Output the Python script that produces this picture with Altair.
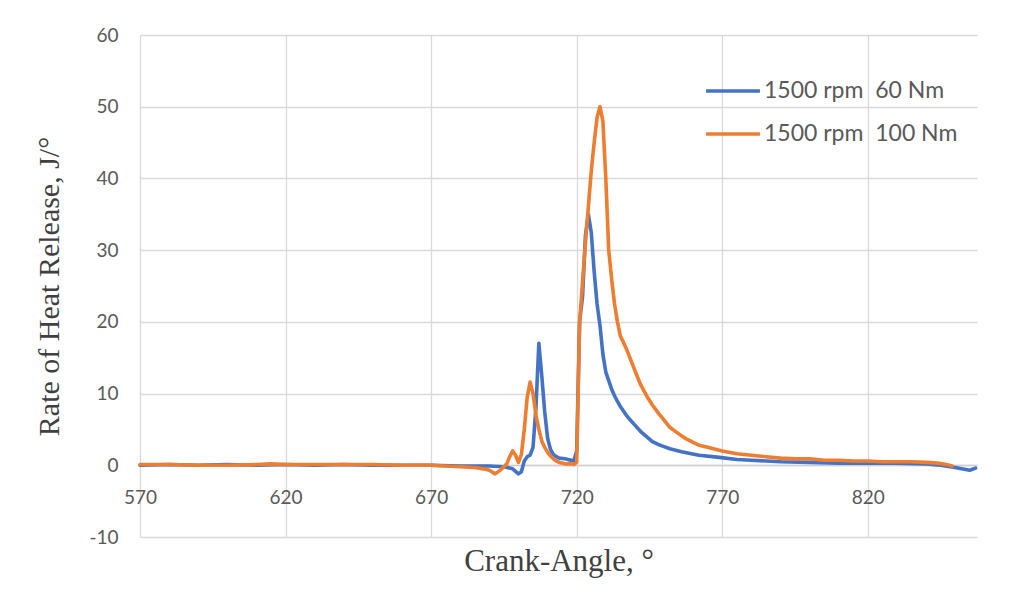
import altair as alt
import pandas as pd

S1 = "1500 rpm\u00a0 60 Nm"
S2 = "1500 rpm\u00a0 100 Nm"

angle_60 = [570, 580, 590, 600, 610, 620, 630, 640, 650, 660, 670, 680, 690, 695, 698,
            700, 701, 702, 703, 704, 705, 706, 707, 708, 709, 710, 711, 712, 713, 714,
            716, 718, 719, 720, 721, 722, 723, 724, 725, 726, 727, 728, 729, 730, 731,
            732, 733, 734, 735, 736, 737, 738, 740, 742, 744, 746, 748, 750, 752, 756,
            762, 769, 775, 780, 790, 800, 810, 820, 830, 840, 845, 850, 855, 857]
rhr_60 = [0.0, 0.1, 0.0, 0.1, 0.0, 0.1, 0.0, 0.1, 0.0, 0.0, 0.0, -0.1, -0.1, -0.2, -0.5,
          -1.2, -0.9, 0.6, 1.2, 1.4, 2.5, 8.0, 17.0, 12.5, 7.5, 3.8, 2.2, 1.5, 1.2, 1.0,
          0.9, 0.7, 0.6, 2.0, 20.0, 23.5, 32.0, 35.0, 32.5, 27.0, 22.5, 19.5, 15.5, 13.0, 11.8,
          10.6, 9.7, 8.9, 8.2, 7.6, 7.0, 6.5, 5.6, 4.7, 4.0, 3.3, 2.9, 2.6, 2.3, 1.9,
          1.4, 1.1, 0.8, 0.7, 0.5, 0.4, 0.3, 0.3, 0.3, 0.2, 0.0, -0.3, -0.7, -0.4]

angle_100 = [570, 580, 590, 600, 610, 615, 620, 630, 640, 650, 660, 670, 675, 680, 685,
             688, 690, 692, 694, 696, 697, 698, 699, 700, 701, 702, 703, 704, 705, 706,
             707, 708, 709, 710, 711, 712, 713, 714, 716, 718, 719, 720, 721, 722, 723,
             724, 725, 726, 727, 728, 729, 730, 731, 732, 733, 734, 735, 736, 737, 738,
             740, 742, 744, 746, 748, 750, 752, 754, 756, 758, 760, 762, 765, 768, 770,
             775, 780, 785, 790, 795, 800, 805, 810, 815, 820, 825, 830, 835, 840, 844,
             847, 849]
rhr_100 = [0.1, 0.1, 0.0, 0.0, 0.1, 0.2, 0.1, 0.1, 0.1, 0.1, 0.0, 0.0, -0.1, -0.2, -0.3,
           -0.5, -0.7, -1.2, -0.6, 0.2, 1.2, 2.0, 1.4, 0.4, 1.5, 5.0, 9.5, 11.6, 10.0, 7.0,
           5.0, 3.4, 2.5, 1.8, 1.3, 0.9, 0.6, 0.4, 0.2, 0.2, 0.1, 0.4, 20.0, 25.5, 31.0,
           36.0, 41.0, 45.0, 48.5, 50.0, 48.0, 40.0, 30.0, 26.0, 22.5, 20.0, 18.0, 17.2, 16.3, 15.3,
           13.2, 11.2, 9.7, 8.4, 7.3, 6.3, 5.3, 4.7, 4.1, 3.6, 3.2, 2.8, 2.5, 2.2, 2.0,
           1.6, 1.4, 1.2, 1.0, 0.9, 0.9, 0.7, 0.7, 0.6, 0.6, 0.5, 0.5, 0.5, 0.4, 0.3,
           0.1, -0.1]

x_ticks = [570, 620, 670, 720, 770, 820]
y_ticks = [-10, 0, 10, 20, 30, 40, 50, 60]

df = pd.concat([
    pd.DataFrame({"angle": angle_60, "rhr": rhr_60, "series": S1, "order": 0}),
    pd.DataFrame({"angle": angle_100, "rhr": rhr_100, "series": S2, "order": 1}),
])

chart = alt.Chart(df).mark_line(strokeWidth=3.6, strokeJoin="round", strokeCap="round").encode(
    x=alt.X("angle:Q",
            scale=alt.Scale(domain=[570, 857.5], nice=False, zero=False),
            axis=alt.Axis(values=x_ticks, title="Crank-Angle, °", offset=-72,
                          grid=True, gridColor="#d9d9d9", gridWidth=1.3,
                          domain=True, domainColor="#cfcfcf", domainWidth=1.5,
                          ticks=False, labelPadding=23, labelFontSize=19,
                          labelFlush=False,
                          labelColor="#595959", labelFont="Lato",
                          titleFont="Liberation Serif", titleFontSize=31,
                          titleFontWeight="normal", titleColor="#404040",
                          titlePadding=39)),
    y=alt.Y("rhr:Q",
            scale=alt.Scale(domain=[-10, 60], nice=False, zero=False),
            axis=alt.Axis(values=y_ticks, title="Rate of Heat Release, J/°",
                          labelExpr="datum.value + ''",
                          grid=True, gridColor="#d9d9d9", gridWidth=1.3,
                          domain=False, ticks=False, labelPadding=22,
                          labelFlush=False,
                          labelFontSize=19, labelColor="#595959", labelFont="Lato",
                          titleFont="Liberation Serif", titleFontSize=30,
                          titleFontWeight="normal", titleColor="#404040",
                          titlePadding=24)),
    color=alt.Color("series:N",
                    scale=alt.Scale(domain=[S1, S2], range=["#4472C4", "#ED7D31"]),
                    legend=alt.Legend(title=None, orient="none", legendX=564, legendY=27,
                                      symbolType="stroke", symbolSize=2900,
                                      symbolStrokeWidth=3.6, labelFontSize=23,
                                      labelFont="Lato", labelColor="#595959",
                                      labelOffset=2, rowPadding=2,
                                      labelLimit=400)),
    order="order:Q",
).properties(
    width=837, height=502,
    padding={"left": 132, "top": 27, "right": 32, "bottom": 54},
    autosize="none",
).configure_view(stroke=None)

chart.save("out.html", embed_options={"renderer": "svg", "actions": False})
